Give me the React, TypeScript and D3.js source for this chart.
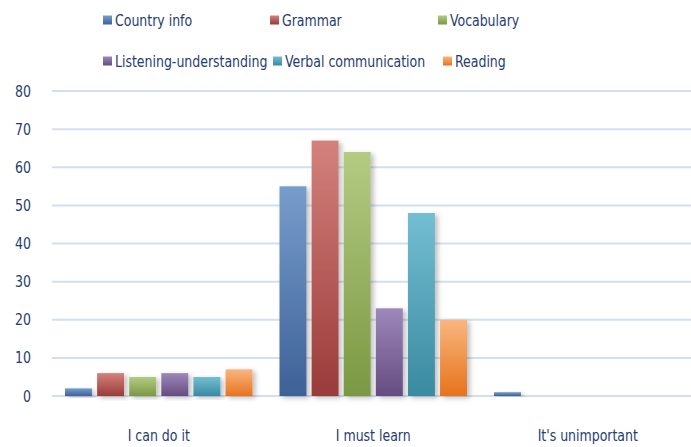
import * as d3 from 'd3';
import React, { useEffect, useRef } from 'react';

const categories = ["I can do it", "I must learn", "It's unimportant"];
const series = ["Country info", "Grammar", "Vocabulary", "Listening-understanding", "Verbal communication", "Reading"];
const countryInfo = [2, 55, 1];
const grammar = [6, 67, 0];
const vocabulary = [5, 64, 0];
const listening = [6, 23, 0];
const verbal = [5, 48, 0];
const reading = [7, 20, 0];
const yTicks = [0, 10, 20, 30, 40, 50, 60, 70, 80];

const values = [countryInfo, grammar, vocabulary, listening, verbal, reading];
const topColors = ['#779dcc', '#d4817c', '#b4cb82', '#9d88bb', '#74bed3', '#f9b680'];
const bottomColors = ['#3d6197', '#9a3b39', '#7a9843', '#654c80', '#398aa0', '#e7731c'];

const FONT = '"DejaVu Sans Condensed", sans-serif';
const FS = 16;
const SX = 0.87; // squeeze to approximate a narrow font

const App = () => {
  const ref = useRef<SVGSVGElement>(null);

  useEffect(() => {
    const svg = d3.select(ref.current);
    svg.selectAll('*').remove();

    const x0 = d3.scaleBand().domain(categories).range([51.5, 695]).paddingInner(0).paddingOuter(0);
    const x1 = d3.scaleBand().domain(series).range([13.5, x0.bandwidth() - 13.5]).paddingInner(0.16).paddingOuter(0);
    const y = d3.scaleLinear().domain([0, 80]).range([396, 91]);

    const defs = svg.append('defs');
    series.forEach((s, i) => {
      const g = defs.append('linearGradient').attr('id', 'g' + i).attr('x1', 0).attr('y1', 0).attr('x2', 0).attr('y2', 1);
      g.append('stop').attr('offset', '0%').attr('stop-color', topColors[i]);
      g.append('stop').attr('offset', '100%').attr('stop-color', bottomColors[i]);
    });
    const f = defs.append('filter').attr('id', 'sh').attr('x', '-20%').attr('y', '-10%').attr('width', '160%').attr('height', '130%');
    f.append('feDropShadow').attr('dx', 3).attr('dy', 2).attr('stdDeviation', 2.5).attr('flood-color', '#000').attr('flood-opacity', 0.25);

    const label = (sel: any, anchor: string) => sel
      .attr('text-anchor', anchor).attr('dy', '0.35em')
      .attr('font-family', FONT).attr('font-size', FS).attr('fill', '#1f3d6e');

    // grid
    svg.append('g').selectAll('line').data(yTicks).enter().append('line')
      .attr('x1', 52).attr('x2', 691)
      .attr('y1', d => y(d)).attr('y2', d => y(d))
      .attr('stroke', '#d3dff0').attr('stroke-width', 2);

    label(svg.append('g').selectAll('text').data(yTicks).enter().append('text')
      .attr('transform', d => `translate(31,${y(d)}) scale(${SX},1)`), 'end')
      .text(d => d);

    // bars
    const groups = svg.append('g').selectAll('g').data(categories).enter().append('g')
      .attr('transform', d => `translate(${x0(d)},0)`);
    groups.selectAll('rect')
      .data((c, ci) => series.map((s, si) => ({ s, si, v: values[si][ci] })).filter(d => d.v > 0))
      .enter().append('rect')
      .attr('x', d => x1(d.s)!)
      .attr('width', x1.bandwidth())
      .attr('y', d => y(d.v))
      .attr('height', d => y(0) - y(d.v))
      .attr('fill', d => `url(#g${d.si})`)
      .attr('filter', 'url(#sh)');

    // category labels
    label(svg.append('g').selectAll('text').data(categories).enter().append('text')
      .attr('transform', d => `translate(${x0(d)! + x0.bandwidth() / 2},435) scale(${SX},1)`), 'middle')
      .text(d => d);

    // legend
    const legendX = [103, 270, 438, 103, 273, 443];
    const legendY = [20, 61];
    const leg = svg.append('g').selectAll('g').data(series).enter().append('g')
      .attr('transform', (d, i) => `translate(${legendX[i]},${legendY[Math.floor(i / 3)]})`);
    leg.append('rect').attr('x', 0).attr('y', -4.5).attr('width', 9).attr('height', 9)
      .attr('fill', (d, i) => `url(#g${i})`);
    label(leg.append('text').attr('transform', `translate(12,0) scale(${SX},1)`), 'start')
      .text(d => d);
  }, []);

  return <svg ref={ref} width={691} height={447} style={{ position: 'absolute', left: 0, top: 0 }} />;
};

export default App;
